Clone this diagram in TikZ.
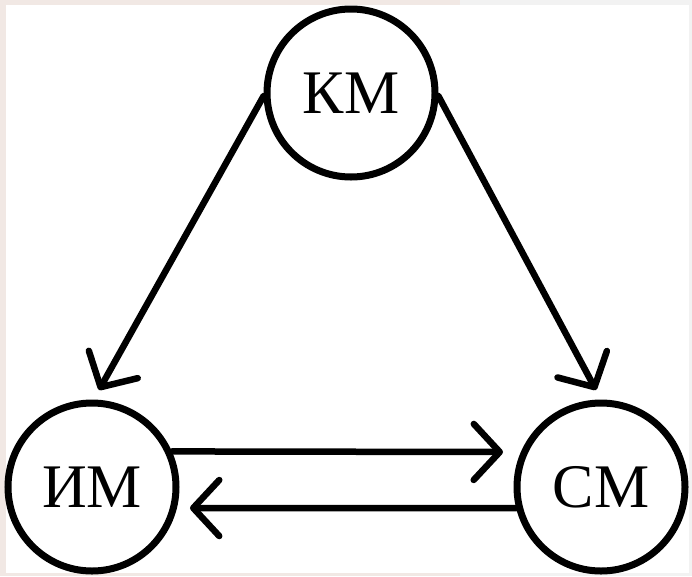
\documentclass[tikz,border=0pt]{standalone}
\usepackage{fontspec}
\setmainfont{Liberation Serif}
\usetikzlibrary{arrows.meta}
\definecolor{paper}{HTML}{F1E8E4}
\definecolor{edgegray}{HTML}{F2F2F2}
\tikzset{
  state/.style={circle, draw=black, line width=7pt, minimum size=168pt, inner sep=0pt, font=\fontsize{62}{62}\selectfont},
  flow/.style={line width=6.5pt, line cap=round, -{Straight Barb[length=26pt, width=56pt, line width=6.5pt, round]}}
}
\begin{document}
\begin{tikzpicture}[x=1pt, y=-1pt]
  % page frame and white sheet
  \fill[edgegray] (0,0) rectangle (692,576);
  \fill[paper] (0,0) rectangle (460,5);
  \fill[paper] (0,0) rectangle (6,576);
  \fill[paper] (0,573) rectangle (460,576);
  \fill[white] (6,5) rectangle (689,573);
  \useasboundingbox (0,0) rectangle (692,576);

  % the three states
  \node[state] (km) at (351,93) {КМ};
  \node[state] (im) at (92,487) {ИМ};
  \node[state] (cm) at (601,487) {СМ};

  % arrow tips stop short of the circles
  \coordinate (tipIm) at (99,390);
  \coordinate (tipCm) at (596,390);
  \coordinate (tipRight) at (503,452);
  \coordinate (tipLeft) at (190,508);

  % connectors
  \draw[flow] (km.182) -- (tipIm);
  \draw[flow] (km.-2) -- (tipCm);
  \draw[flow] (im.24) -- (tipRight);
  \draw[flow] (cm.194) -- (tipLeft);
\end{tikzpicture}
\end{document}
